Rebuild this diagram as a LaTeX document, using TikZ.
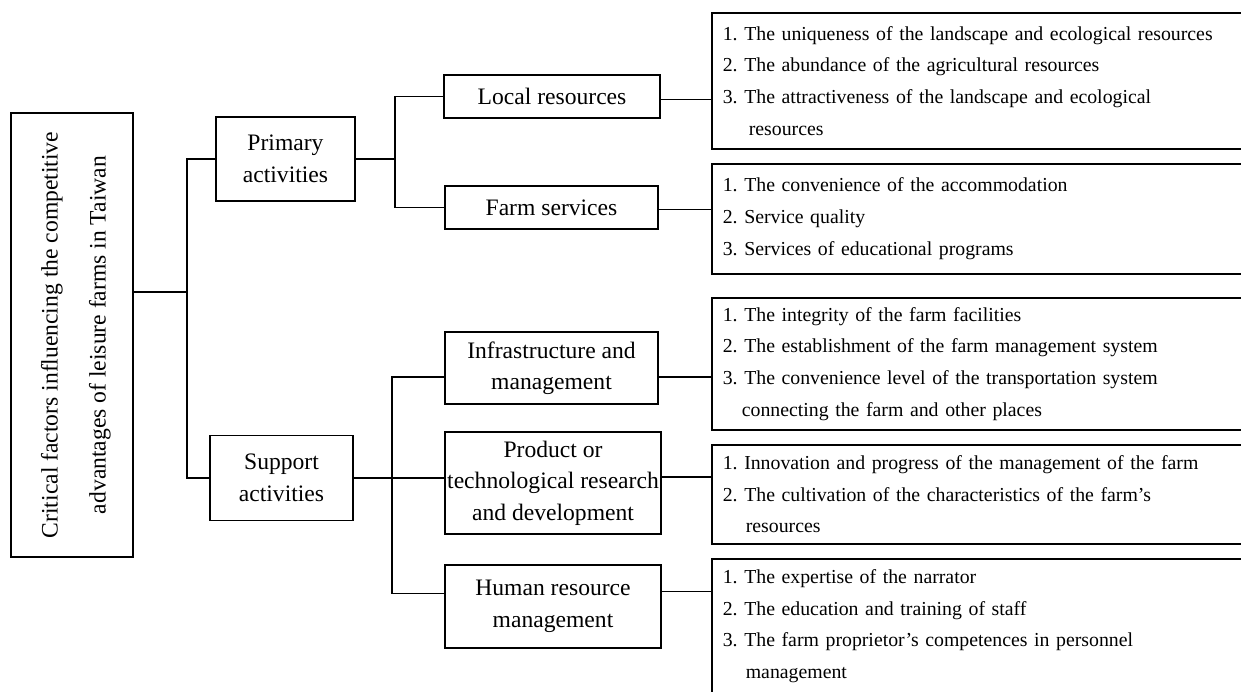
\documentclass[tikz,border=0pt]{standalone}
\usepackage{fontspec}
\setmainfont{Liberation Serif}
\usepackage{graphicx}
\usetikzlibrary{calc}
\frenchspacing

\begin{document}
\begin{tikzpicture}[x=0.5pt,y=-0.5pt,line width=0.8pt,
    midbox/.style={draw,align=center,inner sep=0pt,font=\fontsize{11.8}{15.75}\selectfont},
    listbox/.style={draw,anchor=north west,align=left,text width=269pt,inner xsep=5.5pt,
      inner ysep=0pt,minimum width=280pt,font=\fontsize{9.9}{15.85}\selectfont}]
      \useasboundingbox (0,0) rectangle (1241,691);
      \clip (0,0) rectangle (1241,691);
      \node[draw,inner sep=0pt,minimum width=61pt,minimum height=222pt] (root) at (72,335)
        {\rotatebox{90}{\fontsize{11.8}{24}\selectfont\begin{tabular}{@{}c@{}}Critical factors influencing the competitive\\ advantages of leisure farms in Taiwan\end{tabular}}};
      \node[midbox,minimum width=69.5pt,minimum height=42pt] (primary) at (285.5,159) {Primary\\activities};
      \node[midbox,minimum width=71.5pt,minimum height=42.5pt] (support) at (281.5,478) {Support\\activities};
      \node[midbox,minimum width=108pt,minimum height=21.5pt] (local) at (552,96.5) {Local resources};
      \node[midbox,minimum width=106.5pt,minimum height=21.5pt] (farm) at (551.5,207.5) {Farm services};
      \node[midbox,minimum width=106.5pt,minimum height=36pt] (infra) at (551.5,368) {Infrastructure and\\management};
      \node[midbox,minimum width=108pt,minimum height=51pt] (product) at (553,483) {Product or\\technological research\\and development};
      \node[midbox,minimum width=108pt,minimum height=41.5pt] (human) at (553,606.5) {Human resource\\management};
      \node[listbox,minimum height=68pt] (res1) at (711,12)
        {1. The uniqueness of the landscape and ecological resources\\2. The abundance of the agricultural resources\\3. The attractiveness of the landscape and ecological\\\hspace*{13pt}resources};
      \node[listbox,minimum height=55pt] (res2) at (711,163)
        {1. The convenience of the accommodation\\2. Service quality\\3. Services of educational programs};
      \node[listbox,minimum height=66pt] (res3) at (711,297)
        {1. The integrity of the farm facilities\\2. The establishment of the farm management system\\3. The convenience level of the transportation system\\\hspace*{9.5pt}connecting the farm and other places};
      \node[listbox,minimum height=49.5pt] (res4) at (711,444)
        {1. Innovation and progress of the management of the farm\\2. The cultivation of the characteristics of the farm’s\\\hspace*{11.5pt}resources};
      \node[listbox,minimum height=67.5pt] (res5) at (711,558)
        {1. The expertise of the narrator\\2. The education and training of staff\\3. The farm proprietor’s competences in personnel\\\hspace*{11.5pt}management};
      \coordinate (rootport) at ($(root.east)+(0,-43)$);
      \draw (rootport) -- ++(53,0) coordinate (spine1);
      \draw (primary.west) -| (spine1) |- (support.west);
      \draw (primary.east) -- ++(39,0) coordinate (spine2);
      \draw (local.west) -| (spine2) |- (farm.west);
      \coordinate (spine3) at (392,478);
      \draw (support.east) -- ($(product.west)+(0,-5)$);
      \draw ($(infra.west)+(0,9)$) -| (spine3) |- ($(human.west)+(0,-13)$);
      \foreach \m/\r/\dy in {local/res1/3,farm/res2/2,infra/res3/9,product/res4/-6,human/res5/-15}{
        \coordinate (port) at ($(\m.east)+(0,\dy)$);
        \draw (port) -- (port -| \r.west);
      }
\end{tikzpicture}
\end{document}
